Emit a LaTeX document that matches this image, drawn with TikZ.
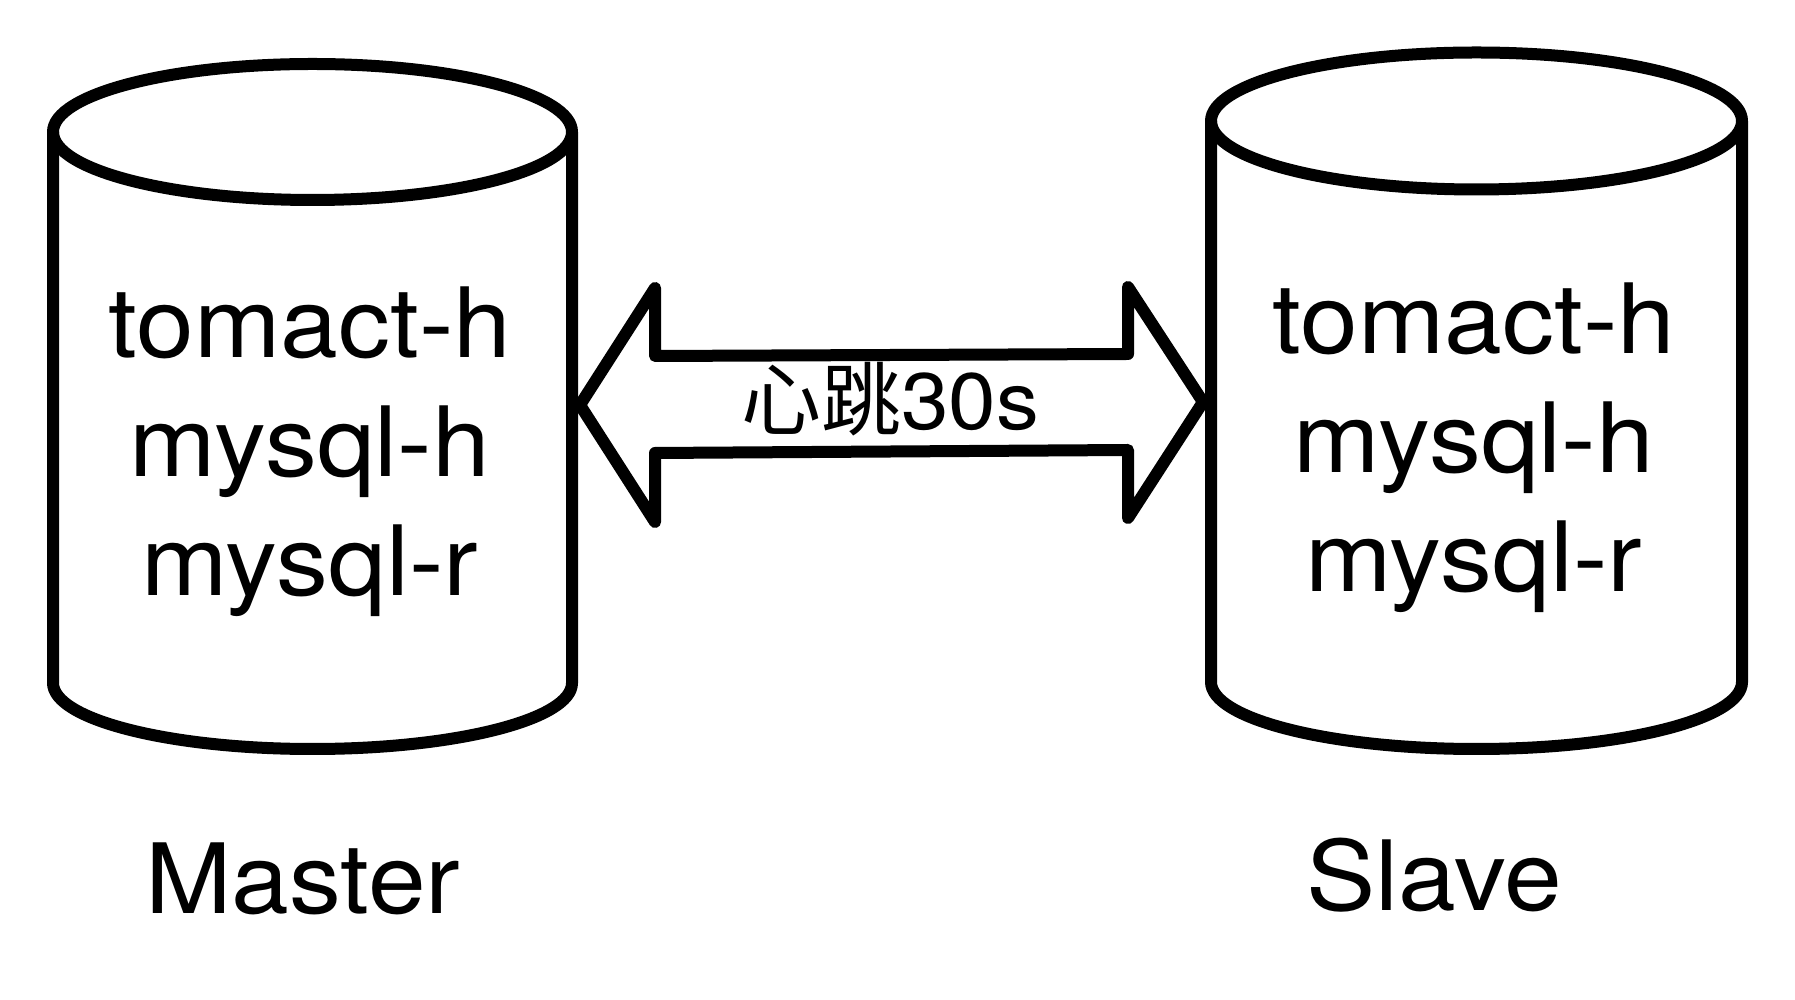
\documentclass[tikz,border=0pt]{standalone}
\usepackage{fontspec}
\setmainfont[FakeStretch=1.07]{TeX Gyre Heros}
\newfontfamily\cjk{Noto Sans CJK SC}
\usetikzlibrary{calc}
\begin{document}
\begin{tikzpicture}[x=1bp,y=1bp,
  outline/.style={draw=black, line width=12bp, line join=round, line cap=round},
  body/.style={font=\fontsize{97bp}{119bp}\selectfont, align=center, inner sep=0pt},
  caption/.style={font=\fontsize{97bp}{118bp}\selectfont, anchor=base, inner sep=0pt},
  beat/.style={font=\fontsize{80bp}{90bp}\selectfont, anchor=base, inner sep=0pt}]
\useasboundingbox (0,0) rectangle (1795,999);
% Master cylinder
\draw[outline] (312.5,867) ellipse [x radius=259.5bp, y radius=68bp];
\draw[outline] (53,867) -- (53,316) arc[start angle=180, end angle=360, x radius=259.5bp, y radius=66bp] -- (572,867);
% Slave cylinder
\draw[outline] (1476.5,878) ellipse [x radius=265.5bp, y radius=68.5bp];
\draw[outline] (1211,878) -- (1211,317) arc[start angle=180, end angle=360, x radius=265.5bp, y radius=67bp] -- (1742,878);
% texts
\node[body] (mbody) at (310,547) {tomact-h\\mysql-h\\mysql-r};
\node[body] (sbody) at (1474,551) {tomact-h\\mysql-h\\mysql-r};
\node[caption] (mlabel) at (303,86) {Master};
\node[caption] (slabel) at (1434,89) {Slave};
% double arrow
\coordinate (ltip) at (580,594);
\coordinate (rtip) at (1203,597);
\draw[outline] (ltip) -- ($(ltip)+(75,117)$) -- ($(ltip)+(75,49)$) -- ($(rtip)+(-75,48)$) -- ($(rtip)+(-75,115)$) -- (rtip)
  -- ($(rtip)+(-75,-116)$) -- ($(rtip)+(-75,-48)$) -- ($(ltip)+(75,-48)$) -- ($(ltip)+(75,-117)$) -- cycle;
\node[beat] (hb) at (890,569) {{\cjk 心跳}30s};
\end{tikzpicture}
\end{document}
